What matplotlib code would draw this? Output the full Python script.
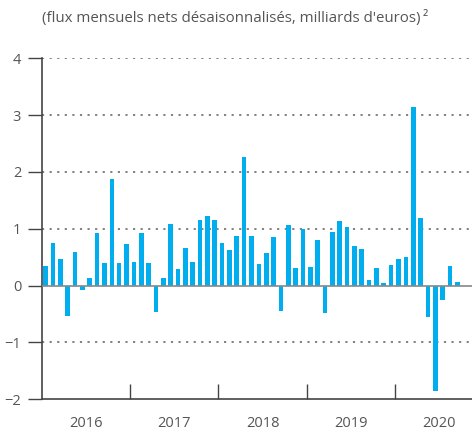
import numpy as np
import matplotlib.pyplot as plt

plt.rcParams['font.family'] = ['Open Sans', 'DejaVu Sans']

# monthly net flows, Jan 2016 - Sep 2020
values = [0.35, 0.75, 0.47, -0.53, 0.59, -0.07, 0.13, 0.93, 0.40, 1.88, 0.40, 0.73,
          0.42, 0.93, 0.40, -0.46, 0.13, 1.09, 0.29, 0.66, 0.42, 1.16, 1.23, 1.16,
          0.75, 0.63, 0.87, 2.26, 0.87, 0.38, 0.57, 0.86, -0.44, 1.07, 0.31, 1.00,
          0.33, 0.80, -0.49, 0.94, 1.14, 1.03, 0.70, 0.65, 0.10, 0.31, 0.05, 0.36,
          0.47, 0.50, 3.14, 1.19, -0.55, -1.85, -0.25, 0.35, 0.07]
years = ['2016', '2017', '2018', '2019', '2020']

grey = '#555555'
fig = plt.figure(figsize=(4.72, 4.32), dpi=100)
ax = fig.add_axes([42/472, 1 - 399.3/432, 1 - 42/472, (399.3 - 58.3)/432])

x = np.arange(len(values)) + 0.5
ax.bar(x, values, width=0.63, color='#00AEEF', zorder=3)

ax.set_xlim(0, 58.5)
ax.set_ylim(-2, 4)
ax.set_yticks(range(-2, 5))
ax.set_yticklabels(['\u22122', '\u22121', '0', '1', '2', '3', '4'])

for v in [-1, 1, 2, 3, 4]:
    ax.axhline(v, color='#777777', lw=1.3, ls=(0, (1.2, 3)), zorder=1)
ax.axhline(0, color='#888888', lw=1.2, zorder=4)

ax.set_xticks([12, 24, 36, 48])
ax.set_xticklabels([])
ax.set_xticks([6 + 12 * i for i in range(len(years))], minor=True)
ax.set_xticklabels(years, minor=True)
ax.tick_params(axis='x', which='major', direction='in', length=11, width=1, color='#444444')
ax.tick_params(axis='x', which='minor', length=0, pad=12, labelsize=10.5, labelcolor=grey)
ax.tick_params(axis='y', direction='out', length=10, width=1, color='#444444',
               labelsize=10.5, labelcolor=grey, pad=5)

for s in ['top', 'right']:
    ax.spines[s].set_visible(False)
for s in ['left', 'bottom']:
    ax.spines[s].set_color('#444444')
    ax.spines[s].set_linewidth(1.2)

fig.text(42/472, 1 - 18/432, "(flux mensuels nets désaisonnalisés, milliards d'euros)\u2009\u00b2",
         fontsize=10.8, color=grey, va='center', ha='left')

fig.savefig('out.png', dpi=100)
